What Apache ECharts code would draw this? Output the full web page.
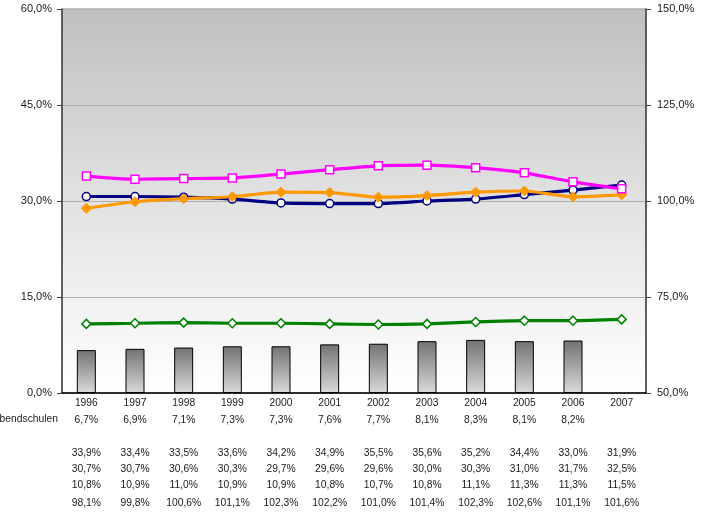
<!DOCTYPE html>
<html><head><meta charset="utf-8">
<script src="https://cdn.jsdelivr.net/npm/echarts@6/dist/echarts.min.js"></script>
<style>html,body{margin:0;padding:0;background:#fff}#c{width:708px;height:514px}</style>
</head><body><div id="c"></div>
<script>
const years = ['1996','1997','1998','1999','2000','2001','2002','2003','2004','2005','2006','2007'];
const abendschulen = [6.7, 6.9, 7.1, 7.3, 7.3, 7.6, 7.7, 8.1, 8.3, 8.1, 8.2, null];
const magentaSeries = [33.9, 33.4, 33.5, 33.6, 34.2, 34.9, 35.5, 35.6, 35.2, 34.4, 33.0, 31.9];
const navySeries = [30.7, 30.7, 30.6, 30.3, 29.7, 29.6, 29.6, 30.0, 30.3, 31.0, 31.7, 32.5];
const greenSeries = [10.8, 10.9, 11.0, 10.9, 10.9, 10.8, 10.7, 10.8, 11.1, 11.3, 11.3, 11.5];
const orangeSeries = [98.1, 99.8, 100.6, 101.1, 102.3, 102.2, 101.0, 101.4, 102.3, 102.6, 101.1, 101.6];
const leftTicks = [0, 15, 30, 45, 60];
const rightTicks = [50, 75, 100, 125, 150];

const fmt = v => (v === null || v === undefined) ? '' : v.toFixed(1).replace('.', ',') + '%';
const FONT = 'Liberation Sans';
const FS = 10.3;
const TXT = '#1a1a1a';

const rows = [abendschulen, magentaSeries, navySeries, greenSeries, orangeSeries];
const offsets = [17, 50, 66, 82, 100];
const extraX = rows.map((r, i) => ({
  type: 'category', gridIndex: 0, position: 'bottom', offset: offsets[i],
  data: r.map(fmt),
  axisLine: {show: false}, axisTick: {show: false}, splitLine: {show: false},
  axisLabel: {interval: 0, margin: 5, fontFamily: FONT, fontSize: FS, color: TXT}
}));

const chart = echarts.init(document.getElementById('c'));
chart.setOption({
  animation: false,
  grid: {left: 62, right: 62, top: 9, bottom: 121, show: true, borderColor: '#808080', borderWidth: 1,
    backgroundColor: {type: 'linear', x: 0, y: 0, x2: 0, y2: 1, colorStops: [
      {offset: 0, color: '#bfbfbf'}, {offset: 0.5, color: '#e2e2e2'}, {offset: 1, color: '#ffffff'}]}},
  graphic: [{type: 'text', x: 58, y: 419.5, style: {text: 'Abendschulen', textAlign: 'right', textVerticalAlign: 'middle', fontFamily: FONT, fontSize: FS, fill: TXT}}],
  xAxis: [{
    type: 'category', data: years, boundaryGap: true,
    axisLine: {lineStyle: {color: '#000', width: 1.5}}, axisTick: {show: false},
    axisLabel: {interval: 0, margin: 5, fontFamily: FONT, fontSize: FS, color: TXT}
  }].concat(extraX),
  yAxis: [{
    type: 'value', min: 0, max: 60, interval: 15,
    axisLine: {show: true, lineStyle: {color: '#404040', width: 1.5}},
    axisTick: {show: true, length: 5, lineStyle: {color: '#404040'}},
    splitLine: {show: true, lineStyle: {color: '#b0b0b0', width: 1}},
    axisLabel: {formatter: v => fmt(v), margin: 10, fontFamily: FONT, fontSize: 11, color: TXT}
  }, {
    type: 'value', min: 50, max: 150, interval: 25, position: 'right',
    axisLine: {show: true, lineStyle: {color: '#404040', width: 1.5}},
    axisTick: {show: true, length: 5, lineStyle: {color: '#404040'}},
    splitLine: {show: false},
    axisLabel: {formatter: v => fmt(v), margin: 11, fontFamily: FONT, fontSize: 11, color: TXT}
  }],
  series: [{
    name: 'Abendschulen', type: 'bar', data: abendschulen, barWidth: 19, yAxisIndex: 0,
    itemStyle: {borderColor: '#000', borderWidth: 1,
      color: {type: 'linear', x: 0, y: 0, x2: 0, y2: 1, colorStops: [{offset: 0, color: '#727272'}, {offset: 1, color: '#dadada'}]}}
  }, {
    type: 'line', data: greenSeries, yAxisIndex: 0, smooth: 0.2,
    lineStyle: {color: '#008000', width: 3.2}, symbol: 'diamond', symbolSize: 9,
    itemStyle: {color: '#ffffff', borderColor: '#008000', borderWidth: 1.5}
  }, {
    type: 'line', data: navySeries, yAxisIndex: 0, smooth: 0.2,
    lineStyle: {color: '#000080', width: 3.2}, symbol: 'circle', symbolSize: 8,
    itemStyle: {color: '#ffffff', borderColor: '#000080', borderWidth: 1.5}
  }, {
    type: 'line', data: orangeSeries, yAxisIndex: 1, smooth: 0.2,
    lineStyle: {color: '#ff9900', width: 3.2}, symbol: 'diamond', symbolSize: 10,
    itemStyle: {color: '#ff9900', borderColor: '#ff9900', borderWidth: 1}
  }, {
    type: 'line', data: magentaSeries, yAxisIndex: 0, smooth: 0.2,
    lineStyle: {color: '#ff00ff', width: 3.2}, symbol: 'rect', symbolSize: 8,
    itemStyle: {color: '#ffffff', borderColor: '#ff00ff', borderWidth: 1.5}
  }]
});
</script></body></html>
